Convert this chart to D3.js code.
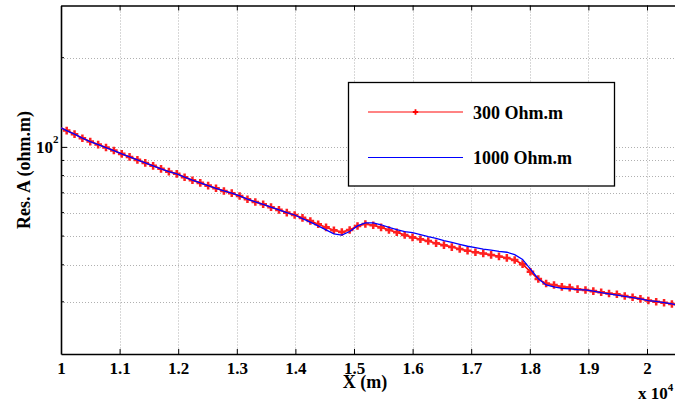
<!DOCTYPE html>
<html>
<head>
<meta charset="utf-8">
<script src="https://cdn.jsdelivr.net/npm/d3@7/dist/d3.min.js"></script>
<style>
  body { margin: 0; background: #fff; }
  text { font-family: "Liberation Serif", "Times New Roman", serif; font-weight: bold; fill: #000; }
</style>
</head>
<body>
<svg id="chart" width="675" height="405"></svg>
<script>
// Profile positions along the line (m)
const positionsM = [10000,
  10097, 10231, 10365, 10499, 10634, 10768, 10902, 11036, 11170, 11304,
  11438, 11572, 11707, 11841, 11975, 12109, 12243, 12377, 12511, 12645,
  12780, 12914, 13048, 13182, 13316, 13450, 13584, 13719, 13853, 13987,
  14121, 14255, 14389, 14523, 14657, 14792, 14926, 15060, 15194, 15328,
  15462, 15596, 15730, 15865, 15999, 16133, 16267, 16401, 16535, 16669,
  16804, 16938, 17072, 17206, 17340, 17474, 17608, 17742, 17877, 18011,
  18145, 18279, 18413, 18547, 18681, 18815, 18950, 19084, 19218, 19352,
  19486, 19620, 19754, 19888, 20023, 20157, 20291, 20425,
  20500];

// Apparent resistivity, 300 Ohm.m model (ohm.m)
const res300 = [115.9,
  113.5, 110.4, 107.0, 104.2, 101.8, 99.5, 97.2, 94.7, 92.5, 90.4,
  88.3, 86.3, 84.3, 82.5, 81.1, 79.0, 77.2, 75.6, 74.0, 72.5,
  71.0, 69.8, 68.3, 66.6, 65.2, 64.0, 62.6, 61.3, 60.0, 58.9,
  57.6, 56.2, 54.8, 53.5, 52.3, 51.6, 52.4, 54.1, 54.9, 54.4,
  53.5, 52.4, 51.5, 50.4, 49.5, 48.8, 48.1, 47.3, 46.6, 45.9,
  45.2, 44.6, 44.1, 43.7, 43.2, 42.7, 42.2, 41.5, 40.2, 37.9,
  35.8, 34.6, 34.2, 33.7, 33.5, 33.1, 32.9, 32.6, 32.3, 32.0,
  31.8, 31.4, 31.1, 30.7, 30.3, 30.0, 29.8, 29.5,
  29.3];

// Apparent resistivity, 1000 Ohm.m model (ohm.m)
const res1000 = [115.9,
  113.5, 110.4, 107.0, 104.2, 101.8, 99.5, 97.2, 94.7, 92.5, 90.4,
  88.3, 86.3, 84.3, 82.5, 81.1, 79.0, 77.2, 75.6, 74.0, 72.5,
  71.0, 69.8, 68.3, 66.6, 65.2, 64.0, 62.6, 61.3, 60.0, 58.9,
  57.3, 55.7, 54.1, 52.5, 50.9, 50.4, 51.8, 54.1, 55.4, 55.4,
  54.6, 53.5, 52.6, 51.8, 51.4, 50.6, 49.8, 49.1, 48.3, 47.6,
  46.9, 46.2, 45.7, 45.2, 44.8, 44.4, 44.1, 43.3, 41.7, 38.7,
  35.9, 34.2, 33.7, 33.3, 33.2, 33.0, 32.9, 32.6, 32.2, 31.9,
  31.6, 31.3, 31.0, 30.7, 30.3, 30.1, 29.8, 29.5,
  29.3];

const seriesNames = ["300 Ohm.m", "1000 Ohm.m"];
const xTicks = [10000, 11000, 12000, 13000, 14000, 15000, 16000, 17000, 18000, 19000, 20000];
const yMajorTicks = [100];
const yMinorTicks = [30, 40, 50, 60, 70, 80, 90, 200];

const svg = d3.select("#chart");
const plotLeft = 61, plotTop = 5.5, plotBottom = 354, plotRight = 676.3;

const x = d3.scaleLinear().domain([10000, 20500]).range([plotLeft, plotRight]);
const y = d3.scaleLog().domain([20, 300]).range([plotBottom, plotTop]);

svg.append("rect").attr("width", 675).attr("height", 405).attr("fill", "#fff");

svg.append("defs").append("clipPath").attr("id", "plotClip")
  .append("rect").attr("x", plotLeft).attr("y", plotTop)
  .attr("width", plotRight - plotLeft).attr("height", plotBottom - plotTop);

// dotted grid
const grid = svg.append("g").attr("stroke", "#b0b0b0").attr("stroke-width", 1)
  .attr("stroke-dasharray", "1,2").attr("fill", "none");
grid.selectAll("line.v").data(xTicks.slice(1)).join("line")
  .attr("x1", d => Math.round(x(d)) + 0.5).attr("x2", d => Math.round(x(d)) + 0.5)
  .attr("y1", plotTop).attr("y2", plotBottom);
grid.selectAll("line.h").data(yMajorTicks.concat(yMinorTicks)).join("line")
  .attr("x1", plotLeft).attr("x2", plotRight)
  .attr("y1", d => Math.round(y(d)) + 0.5).attr("y2", d => Math.round(y(d)) + 0.5);

// axes (ticks pointing inward)
const xAxis = svg.append("g").attr("transform", `translate(0,${plotBottom})`)
  .call(d3.axisBottom(x).tickValues(xTicks).tickSizeInner(-5).tickSizeOuter(0)
    .tickPadding(7.5).tickFormat(d => d3.format("")(+(d / 1e4).toFixed(1))));
xAxis.selectAll("text").attr("font-size", 17).attr("font-family", null);
xAxis.select(".domain").attr("stroke-width", 1.6);
xAxis.selectAll(".tick line").attr("stroke-width", 1);
xAxis.attr("font-family", null).attr("font-size", null);

svg.append("g").attr("transform", `translate(0,${plotTop})`)
  .call(d3.axisTop(x).tickValues(xTicks).tickSizeInner(-5).tickSizeOuter(0).tickFormat(""))
  .call(g => g.select(".domain").attr("stroke-width", 1.3));

const yAxis = svg.append("g").attr("transform", `translate(${plotLeft},0)`)
  .call(d3.axisLeft(y).tickValues(yMajorTicks).tickSizeInner(-6).tickSizeOuter(0).tickFormat(""));
yAxis.select(".domain").attr("stroke-width", 1.6);
yAxis.selectAll(".minor").data(yMinorTicks).join("line").attr("class", "minor")
  .attr("x1", 0).attr("x2", 3).attr("stroke", "#000")
  .attr("y1", d => y(d)).attr("y2", d => y(d));

// major y label 10^2
yMajorTicks.forEach(v => {
  const t = svg.append("text").attr("x", 58.5).attr("y", y(v) + 6.3)
    .attr("text-anchor", "end").attr("font-size", 17);
  t.append("tspan").text("10");
  t.append("tspan").attr("font-size", 11).attr("dy", -10).text(Math.round(Math.log10(v)));
});

// axis titles
svg.append("text").attr("x", 365).attr("y", 388).attr("text-anchor", "middle")
  .attr("font-size", 18).text("X (m)");
const mult = svg.append("text").attr("x", 638).attr("y", 399).attr("font-size", 17);
mult.append("tspan").text("x 10");
mult.append("tspan").attr("font-size", 11).attr("dy", -8).text("4");
svg.append("text").attr("transform", "translate(30,170) rotate(-90)")
  .attr("text-anchor", "middle").attr("font-size", 18).text("Res. A (ohm.m)");

// series
const plot = svg.append("g").attr("clip-path", "url(#plotClip)");
const line = vals => d3.line().x((d, i) => x(positionsM[i])).y(d => y(d))(vals);
const cross = d3.symbol().type(d3.symbolCross).size(32);

plot.append("path").attr("d", line(res300)).attr("fill", "none")
  .attr("stroke", "#ff0000").attr("stroke-width", 1.6);
plot.selectAll("path.mk").data(res300.map((v, i) => [positionsM[i], v])
    .filter((d, i) => i > 0 && i < res300.length - 1))
  .join("path").attr("class", "mk").attr("d", cross)
  .attr("transform", d => `translate(${x(d[0])},${y(d[1])})`)
  .attr("fill", "#ff2020");
plot.append("path").attr("d", line(res1000)).attr("fill", "none")
  .attr("stroke", "#0000ff").attr("stroke-width", 1.3);

// legend
const lg = svg.append("g");
lg.append("rect").attr("x", 348.5).attr("y", 82.5).attr("width", 266).attr("height", 103.5)
  .attr("fill", "#fff").attr("stroke", "#000").attr("stroke-width", 1.3);
lg.append("line").attr("x1", 368).attr("x2", 463).attr("y1", 112).attr("y2", 112)
  .attr("stroke", "#ff5a5a").attr("stroke-width", 1.6);
lg.append("path").attr("d", d3.symbol().type(d3.symbolCross).size(16))
  .attr("transform", "translate(415.5,112)").attr("fill", "#ff0000");
lg.append("line").attr("x1", 368).attr("x2", 463).attr("y1", 157.5).attr("y2", 157.5)
  .attr("stroke", "#0000ff").attr("stroke-width", 1.2);
lg.append("text").attr("x", 473).attr("y", 118.5).attr("font-size", 18).text(seriesNames[0]);
lg.append("text").attr("x", 473).attr("y", 164).attr("font-size", 18).text(seriesNames[1]);
</script>
</body>
</html>
